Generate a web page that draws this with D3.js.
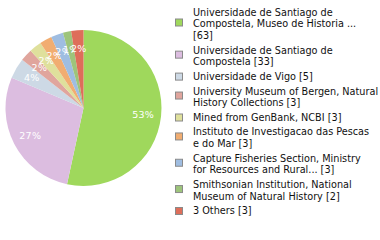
<!DOCTYPE html>
<html>
<head>
<meta charset="utf-8">
<script src="https://cdn.jsdelivr.net/npm/d3@7"></script>
<style>
  html, body { margin: 0; padding: 0; background: #fff; }
  svg { display: block; }
  text { font-family: "DejaVu Sans", sans-serif; }
</style>
</head>
<body>
<svg id="chart"></svg>
<script>
// 机构名称（图例文字，按原图换行）
const labels = [
  "Universidade de Santiago de\nCompostela, Museo de Historia ...\n[63]",
  "Universidade de Santiago de\nCompostela [33]",
  "Universidade de Vigo [5]",
  "University Museum of Bergen, Natural\nHistory Collections [3]",
  "Mined from GenBank, NCBI [3]",
  "Instituto de Investigacao das Pescas\ne do Mar [3]",
  "Capture Fisheries Section, Ministry\nfor Resources and Rural... [3]",
  "Smithsonian Institution, National\nMuseum of Natural History [2]",
  "3 Others [3]"
];

// 记录数
const counts = [63, 33, 5, 3, 3, 3, 3, 2, 3];

// 颜色数组
const colors = ["#9fd85c", "#dcbde0", "#cdd9e5", "#e0a59d", "#dfe09c",
  "#f1ad71", "#9fbde1", "#9dc47b", "#de6e5a"];

const width = 380, height = 240;
const svg = d3.select("#chart")
  .attr("width", width)
  .attr("height", height);

const data = counts.map((c, i) => ({ label: labels[i], count: c, color: colors[i] }));
const total = d3.sum(counts);

// 饼图生成器
const pie = d3.pie()
  .value(d => d.count)
  .sort(null);

const radius = 78;
const arc = d3.arc().innerRadius(0).outerRadius(radius);
const labelArc = d3.arc().innerRadius(60).outerRadius(60);

const g = svg.append("g")
  .attr("transform", "translate(83.5, 108)");

const arcs = g.selectAll("g.arc")
  .data(pie(data))
  .enter()
  .append("g")
  .attr("class", "arc");

arcs.append("path")
  .attr("d", arc)
  .attr("fill", d => d.data.color);

// 百分比文字（向下取整）
arcs.append("text")
  .attr("transform", d => `translate(${labelArc.centroid(d)})`)
  .attr("text-anchor", "middle")
  .attr("dy", "0.35em")
  .attr("fill", "#fff")
  .style("font-size", "9.5px")
  .style("letter-spacing", "0.3px")
  .text(d => Math.floor(d.data.count / total * 100) + "%");

// 图例
const lineH = 11.7, gap = 2.9;
const legend = svg.append("g");
let y = 15.6;
data.forEach(d => {
  const lines = d.label.split("\n");
  const item = legend.append("g");
  const mid = y - 3.3 + (lines.length - 1) * lineH / 2;
  item.append("rect")
    .attr("x", 175.5)
    .attr("y", mid - (lines.length > 1 ? 1.5 : 0) - 3.5)
    .attr("width", 7)
    .attr("height", 7)
    .attr("fill", d.color)
    .attr("stroke", "#8a8a8a")
    .attr("stroke-width", 1);
  const t = item.append("text")
    .attr("x", 193)
    .attr("y", y)
    .attr("fill", "#111")
    .style("font-size", "9.7px");
  lines.forEach((l, i) => {
    t.append("tspan")
      .attr("x", 193)
      .attr("dy", i === 0 ? 0 : lineH)
      .text(l);
  });
  y += lines.length * lineH + gap;
});
</script>
</body>
</html>
